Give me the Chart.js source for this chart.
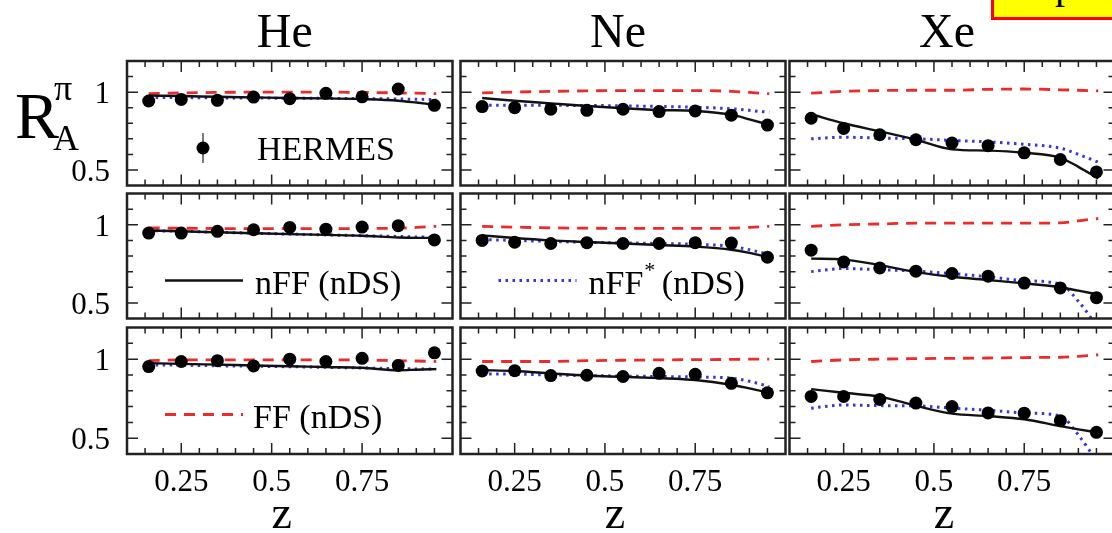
<!DOCTYPE html>
<html>
<head>
<meta charset="utf-8">
<script src="https://cdn.jsdelivr.net/npm/chart.js@4.4.0/dist/chart.umd.min.js"></script>
<style>
  body { margin: 0; background: #fff; }
  #fig { position: relative; width: 1112px; height: 533px; overflow: hidden; }
  #fig canvas { position: absolute; }
  #tag { position: absolute; left: 991px; top: -26px; width: 140px; height: 46px; box-sizing: border-box;
         border: 3px solid #f00; background: #ff0; }
  #tagtxt { position: absolute; left: 1055px; top: -35px; font: 40px "Liberation Serif"; line-height: 40px; color: #000; }
</style>
</head>
<body>
<div id="fig">
  <div id="tag"></div>
  <div id="tagtxt">p</div>
</div>
<script>
// z of the HERMES points and of the computed curves
var zPoints = [0.16, 0.25, 0.35, 0.45, 0.55, 0.65, 0.75, 0.85, 0.95];
var zCurve  = [0.16, 0.25, 0.35, 0.45, 0.55, 0.65, 0.75, 0.85, 0.90, 0.955];

var nuclei = ["He", "Ne", "Xe"];
var xMajorTicks = [0.25, 0.5, 0.75];
var xMinorTicks = [0.15, 0.2, 0.3, 0.35, 0.4, 0.45, 0.55, 0.6, 0.65, 0.7, 0.8, 0.85, 0.9, 0.95];
var yMajorTicks = [0.5, 1];
var yMinorTicks = [0.6, 0.7, 0.8, 0.9, 1.1];
var xTickLabels = ["0.25", "0.5", "0.75"];
var yTickLabels = ["0.5", "1"];

// row 1
var heRow1Hermes  = [0.943, 0.953, 0.947, 0.968, 0.958, 0.992, 0.970, 1.020, 0.915];
var heRow1nFF     = [0.978, 0.975, 0.970, 0.966, 0.962, 0.960, 0.955, 0.945, 0.933, 0.918];
var heRow1nFFstar = [0.965, 0.965, 0.963, 0.962, 0.961, 0.960, 0.958, 0.956, 0.954, 0.952];
var heRow1FF      = [0.990, 0.995, 0.998, 1.000, 1.000, 1.000, 0.998, 0.995, 0.993, 0.990];

var neRow1Hermes  = [0.907, 0.900, 0.890, 0.883, 0.890, 0.875, 0.879, 0.852, 0.788];
var neRow1nFF     = [0.962, 0.945, 0.928, 0.911, 0.896, 0.885, 0.879, 0.855, 0.825, 0.790];
var neRow1nFFstar = [0.915, 0.915, 0.915, 0.914, 0.912, 0.908, 0.903, 0.893, 0.883, 0.870];
var neRow1FF      = [0.995, 1.000, 1.005, 1.008, 1.010, 1.010, 1.010, 1.005, 0.998, 0.990];

var xeRow1Hermes  = [0.832, 0.767, 0.726, 0.694, 0.673, 0.656, 0.610, 0.567, 0.487];
var xeRow1nFF     = [0.858, 0.800, 0.748, 0.694, 0.632, 0.624, 0.610, 0.578, 0.520, 0.445];
var xeRow1nFFstar = [0.700, 0.710, 0.705, 0.700, 0.690, 0.680, 0.665, 0.640, 0.600, 0.550];
var xeRow1FF      = [0.993, 1.005, 1.010, 1.012, 1.012, 1.018, 1.020, 1.015, 1.012, 1.008];

// row 2
var heRow2Hermes  = [0.947, 0.947, 0.958, 0.968, 0.983, 0.972, 0.985, 0.994, 0.903];
var heRow2nFF     = [0.963, 0.958, 0.952, 0.946, 0.940, 0.935, 0.930, 0.918, 0.916, 0.916];
var heRow2nFFstar = [0.962, 0.958, 0.952, 0.946, 0.940, 0.935, 0.930, 0.925, 0.922, 0.920];
var heRow2FF      = [0.980, 0.978, 0.976, 0.975, 0.975, 0.975, 0.976, 0.978, 0.983, 0.990];

var neRow2Hermes  = [0.900, 0.888, 0.880, 0.885, 0.880, 0.880, 0.885, 0.883, 0.792];
var neRow2nFF     = [0.932, 0.915, 0.900, 0.890, 0.880, 0.870, 0.860, 0.840, 0.820, 0.790];
var neRow2nFFstar = [0.905, 0.900, 0.893, 0.888, 0.884, 0.880, 0.875, 0.862, 0.840, 0.810];
var neRow2FF      = [0.990, 0.985, 0.980, 0.978, 0.977, 0.977, 0.977, 0.978, 0.983, 0.990];

var xeRow2Hermes  = [0.837, 0.762, 0.724, 0.703, 0.688, 0.671, 0.627, 0.596, 0.533];
var xeRow2nFF     = [0.783, 0.777, 0.742, 0.697, 0.667, 0.646, 0.625, 0.600, 0.578, 0.554];
var xeRow2nFFstar = [0.700, 0.720, 0.712, 0.703, 0.687, 0.667, 0.642, 0.620, 0.510, 0.340];
var xeRow2FF      = [0.990, 1.000, 1.005, 1.010, 1.010, 1.010, 1.010, 1.012, 1.025, 1.040];

// row 3
var heRow3Hermes  = [0.953, 0.985, 0.990, 0.957, 1.000, 0.985, 1.005, 0.960, 1.040];
var heRow3nFF     = [0.975, 0.970, 0.965, 0.960, 0.955, 0.950, 0.945, 0.930, 0.933, 0.937];
var heRow3nFFstar = [0.964, 0.962, 0.958, 0.955, 0.952, 0.948, 0.944, 0.940, 0.938, 0.937];
var heRow3FF      = [0.990, 0.995, 0.995, 0.995, 0.995, 0.995, 0.994, 0.990, 0.988, 0.985];

var neRow3Hermes  = [0.925, 0.927, 0.896, 0.898, 0.890, 0.910, 0.904, 0.847, 0.787];
var neRow3nFF     = [0.930, 0.925, 0.910, 0.896, 0.888, 0.880, 0.868, 0.838, 0.815, 0.787];
var neRow3nFFstar = [0.906, 0.905, 0.900, 0.896, 0.893, 0.890, 0.887, 0.880, 0.860, 0.826];
var neRow3FF      = [0.985, 0.985, 0.985, 0.990, 0.993, 0.995, 0.997, 0.998, 1.000, 1.000];

var xeRow3Hermes  = [0.764, 0.764, 0.745, 0.722, 0.700, 0.660, 0.658, 0.611, 0.537];
var xeRow3nFF     = [0.810, 0.787, 0.763, 0.705, 0.655, 0.640, 0.620, 0.576, 0.556, 0.536];
var xeRow3nFFstar = [0.690, 0.710, 0.706, 0.705, 0.690, 0.677, 0.660, 0.640, 0.520, 0.340];
var xeRow3FF      = [0.985, 0.995, 1.000, 1.003, 1.005, 1.007, 1.010, 1.012, 1.018, 1.027];

var panelData = [
  [heRow1Hermes, heRow1nFF, heRow1nFFstar, heRow1FF],
  [neRow1Hermes, neRow1nFF, neRow1nFFstar, neRow1FF],
  [xeRow1Hermes, xeRow1nFF, xeRow1nFFstar, xeRow1FF],
  [heRow2Hermes, heRow2nFF, heRow2nFFstar, heRow2FF],
  [neRow2Hermes, neRow2nFF, neRow2nFFstar, neRow2FF],
  [xeRow2Hermes, xeRow2nFF, xeRow2nFFstar, xeRow2FF],
  [heRow3Hermes, heRow3nFF, heRow3nFFstar, heRow3FF],
  [neRow3Hermes, neRow3nFF, neRow3nFFstar, neRow3FF],
  [xeRow3Hermes, xeRow3nFF, xeRow3nFFstar, xeRow3FF]
];

// panel frames on the page
var colLeft = [127, 460, 789];
var colWidth = 326;
var rowTop = [61, 193, 327];
var rowHeight = [125, 126, 127];

var SERIF = '"Liberation Serif", "Times New Roman", serif';

function pts(zs, vals) {
  return zs.map(function(z, i) { return {x: z, y: vals[i]}; });
}

// which legend entry sits in which panel (index into panelData)
var legendSpots = {0: 0, 3: 1, 4: 2, 6: 3};

var panelDeco = {
  id: 'panelDeco',
  afterDraw: function(chart, args, opts) {
    var ctx = chart.ctx, a = chart.chartArea;
    var xs = chart.scales.x, ys = chart.scales.y;
    ctx.save();

    // ticks on all four sides, pointing in
    ctx.strokeStyle = '#222';
    ctx.lineWidth = 1.5;
    ctx.beginPath();
    function xt(v, len) {
      var px = xs.getPixelForValue(v);
      ctx.moveTo(px, a.top); ctx.lineTo(px, a.top + len);
      ctx.moveTo(px, a.bottom); ctx.lineTo(px, a.bottom - len);
    }
    function yt(v, len) {
      var py = ys.getPixelForValue(v);
      ctx.moveTo(a.left, py); ctx.lineTo(a.left + len, py);
      ctx.moveTo(a.right, py); ctx.lineTo(a.right - len, py);
    }
    xMinorTicks.forEach(function(v) { xt(v, 6); });
    xMajorTicks.forEach(function(v) { xt(v, 11); });
    yMinorTicks.forEach(function(v) { yt(v, 6); });
    yMajorTicks.forEach(function(v) { yt(v, 11); });
    ctx.stroke();

    // frame
    ctx.lineWidth = 2.5;
    ctx.strokeRect(a.left, a.top, a.right - a.left, a.bottom - a.top);

    ctx.fillStyle = '#000';
    var cx = (a.left + a.right) / 2;

    if (opts.title) {
      ctx.font = '48px ' + SERIF;
      ctx.textAlign = 'center';
      ctx.textBaseline = 'alphabetic';
      ctx.fillText(opts.title, cx - 5, a.top - 14);
    }
    if (opts.yLabels) {
      ctx.font = '31px ' + SERIF;
      ctx.textAlign = 'right';
      ctx.textBaseline = 'middle';
      yMajorTicks.forEach(function(v, i) {
        ctx.fillText(yTickLabels[i], a.left - 17, ys.getPixelForValue(v) + 3);
      });
    }
    if (opts.xLabels) {
      ctx.font = '31px ' + SERIF;
      ctx.textAlign = 'center';
      ctx.textBaseline = 'middle';
      xMajorTicks.forEach(function(v, i) {
        ctx.fillText(xTickLabels[i], xs.getPixelForValue(v), a.bottom + 29);
      });
      ctx.font = '46px ' + SERIF;
      ctx.fillText('z', cx - 8, a.bottom + 62);
    }
    if (opts.yTitle) {
      ctx.textAlign = 'left';
      ctx.textBaseline = 'alphabetic';
      ctx.font = '66px ' + SERIF;
      ctx.fillText('R', 15, 138);
      ctx.font = '36px ' + SERIF;
      ctx.fillText('\u03c0', 54, 100);
      ctx.fillText('A', 53, 150);
    }

    // legend entry
    if (opts.legend != null) {
      var ds = chart.data.datasets[opts.legend];
      var ly = a.top + 87;
      ctx.textAlign = 'left';
      ctx.textBaseline = 'alphabetic';
      ctx.font = '34px ' + SERIF;
      if (opts.legend === 0) {
        var mx = a.left + 76;
        ctx.lineWidth = 1.2;
        ctx.beginPath();
        ctx.moveTo(mx, ly - 15); ctx.lineTo(mx, ly + 15);
        ctx.stroke();
        ctx.beginPath();
        ctx.arc(mx, ly, ds.pointRadius, 0, Math.PI * 2);
        ctx.fill();
        ctx.fillText(ds.label, a.left + 130, a.top + 99);
      } else {
        var x0 = a.left + 38, x1 = a.left + 116;
        ctx.strokeStyle = ds.borderColor;
        ctx.lineWidth = ds.borderWidth;
        ctx.setLineDash(ds.borderDash || []);
        ctx.beginPath();
        ctx.moveTo(x0, ly); ctx.lineTo(x1, ly);
        ctx.stroke();
        ctx.setLineDash([]);
        var tx = a.left + 128, tyy = a.top + 100;
        if (opts.legend === 2) {
          ctx.fillText('nFF', tx, tyy);
          var w = ctx.measureText('nFF').width;
          ctx.font = '22px ' + SERIF;
          ctx.fillText('*', tx + w + 1, tyy - 17);
          ctx.font = '34px ' + SERIF;
          ctx.fillText(' (nDS)', tx + w + 10, tyy);
        } else {
          ctx.fillText(ds.label, tx - (opts.legend === 3 ? 2 : 0), tyy);
        }
      }
    }
    ctx.restore();
  }
};

var fig = document.getElementById('fig');

panelData.forEach(function(series, k) {
  var row = Math.floor(k / 3), col = k % 3;
  var pad = {
    left: col === 0 ? 127 : 6,
    right: 6,
    top: row === 0 ? 61 : 6,
    bottom: row === 2 ? 79 : 6
  };
  var cv = document.createElement('canvas');
  cv.width = colWidth + pad.left + pad.right;
  cv.height = rowHeight[row] + pad.top + pad.bottom;
  cv.style.width = cv.width + 'px';
  cv.style.height = cv.height + 'px';
  cv.style.left = (colLeft[col] - pad.left) + 'px';
  cv.style.top = (rowTop[row] - pad.top) + 'px';
  fig.appendChild(cv);

  new Chart(cv, {
    type: 'line',
    data: {
      datasets: [
        {
          label: 'HERMES',
          data: pts(zPoints, series[0]),
          showLine: false,
          pointRadius: 6.5,
          pointBackgroundColor: '#000',
          pointBorderColor: '#000',
          pointBorderWidth: 0,
          borderColor: '#000'
        },
        {
          label: 'nFF (nDS)',
          data: pts(zCurve, series[1]),
          borderColor: '#111',
          borderWidth: 2.4,
          pointRadius: 0,
          cubicInterpolationMode: 'monotone'
        },
        {
          label: 'nFF* (nDS)',
          data: pts(zCurve, series[2]),
          borderColor: '#3535dd',
          borderWidth: 3,
          borderDash: [2.5, 4.5],
          pointRadius: 0,
          cubicInterpolationMode: 'monotone'
        },
        {
          label: 'FF (nDS)',
          data: pts(zCurve, series[3]),
          borderColor: '#ec2a2a',
          borderWidth: 2.8,
          borderDash: [11, 8],
          pointRadius: 0,
          cubicInterpolationMode: 'monotone'
        }
      ]
    },
    options: {
      responsive: false,
      animation: false,
      events: [],
      layout: { padding: pad },
      scales: {
        x: { type: 'linear', min: 0.1, max: 1.0, display: false },
        y: { type: 'linear', min: 0.4, max: 1.2, display: false }
      },
      plugins: {
        legend: { display: false },
        tooltip: { enabled: false },
        panelDeco: {
          title: row === 0 ? nuclei[col] : null,
          yLabels: col === 0,
          xLabels: row === 2,
          yTitle: k === 0,
          legend: legendSpots.hasOwnProperty(k) ? legendSpots[k] : null
        }
      }
    },
    plugins: [panelDeco]
  });
});
</script>
</body>
</html>
